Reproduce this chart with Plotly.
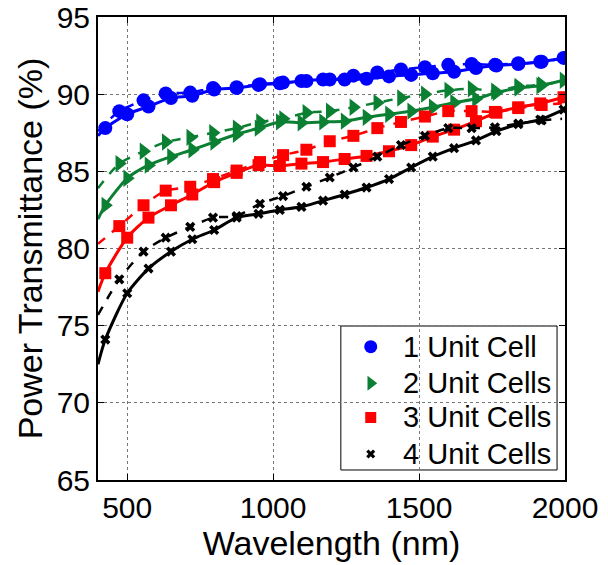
import plotly.graph_objects as go

# Wavelength grids (nm): solid-curve samples and dashed-curve samples
wl_solid = [400, 425, 500, 573, 650, 723, 798, 875, 950, 1023, 1097, 1171, 1245,
            1320, 1397, 1473, 1547, 1620, 1695, 1765, 1840, 1915, 1995]
wl_dash = [400, 473, 556, 632, 716, 794, 875, 955, 1034, 1114, 1194, 1275, 1357,
           1438, 1520, 1600, 1680, 1760, 1840, 1920, 1990]

# Power transmittance (%) along the solid curves
cell1_solid = [87.3, 87.8, 88.7, 89.2, 89.75, 89.9, 90.3, 90.4, 90.6, 90.7, 90.85, 90.95,
               90.95, 91.0, 91.15, 91.25, 91.35, 91.45, 91.7, 91.85, 91.95, 92.1, 92.35]
cell2_solid = [81.9, 82.8, 84.55, 85.4, 85.95, 86.4, 86.9, 87.4, 87.8, 88.2, 88.15, 88.2,
               88.25, 88.5, 88.7, 88.9, 89.15, 89.45, 89.7, 90.1, 90.4, 90.55, 90.9]
cell3_solid = [77.2, 78.4, 80.7, 82.0, 82.8, 83.5, 84.3, 84.9, 85.4, 85.35, 85.5, 85.6,
               85.8, 86.0, 86.3, 86.7, 87.25, 87.7, 88.25, 88.8, 89.15, 89.4, 89.8]
cell4_solid = [72.5, 74.1, 77.1, 78.7, 79.8, 80.6, 81.2, 82.0, 82.25, 82.5, 82.7, 83.1,
               83.5, 83.95, 84.5, 85.25, 85.95, 86.5, 87.0, 87.6, 88.05, 88.35, 89.0]

# Power transmittance (%) along the dashed curves
cell1_dash = [87.6, 88.9, 89.6, 90.05, 90.1, 90.4, 90.45, 90.65, 90.75, 90.85, 90.95,
              91.2, 91.4, 91.6, 91.75, 91.9, 91.95, 91.9, 92.0, 92.1, 92.3]
cell2_dash = [83.9, 85.5, 86.3, 86.9, 87.2, 87.5, 87.8, 88.2, 88.4, 88.8, 88.9,
              89.15, 89.45, 89.75, 90.0, 90.25, 90.35, 90.2, 90.5, 90.6, 90.8]
cell3_dash = [80.3, 81.45, 82.8, 83.75, 84.0, 84.5, 85.05, 85.6, 86.05, 86.4, 86.95,
              87.3, 87.8, 88.2, 88.55, 88.9, 88.9, 88.85, 89.1, 89.3, 89.4]
cell4_dash = [75.7, 78.0, 79.8, 80.7, 81.4, 82.0, 82.1, 82.9, 83.4, 84.0, 84.6,
              85.25, 85.95, 86.7, 87.3, 87.8, 87.8, 87.85, 88.1, 88.3, 88.4]

names = ["1 Unit Cell", "2 Unit Cells", "3 Unit Cells", "4 Unit Cells"]
colors = ["#0000ff", "#0b7f32", "#ff0000", "#000000"]
symbols = ["circle", "triangle-right", "square", "x"]
msizes = [14, 15, 12, 9]
legend_msizes = [13, 13, 11, 8]

solids = [cell1_solid, cell2_solid, cell3_solid, cell4_solid]
dashes = [cell1_dash, cell2_dash, cell3_dash, cell4_dash]

FONT = "Liberation Sans, Arial, sans-serif"

fig = go.Figure()

for i in range(4):
    c = colors[i]
    # curves
    fig.add_trace(go.Scatter(x=wl_solid, y=solids[i], mode="lines",
                             line=dict(color=c, width=3, shape="spline", smoothing=0.7),
                             showlegend=False, hoverinfo="skip"))
    fig.add_trace(go.Scatter(x=wl_dash, y=dashes[i], mode="lines",
                             line=dict(color=c, width=2.5, dash="dash", shape="spline",
                                       smoothing=0.7),
                             showlegend=False, hoverinfo="skip"))
    # markers on the dashed curve (interior samples)
    fig.add_trace(go.Scatter(x=wl_dash[1:-1], y=dashes[i][1:-1], mode="markers",
                             marker=dict(symbol=symbols[i], size=msizes[i], color=c,
                                         line=dict(width=0)),
                             showlegend=False))
    # markers on the solid curve
    fig.add_trace(go.Scatter(x=wl_solid[1:], y=solids[i][1:], mode="markers",
                             name=names[i], showlegend=False,
                             marker=dict(symbol=symbols[i], size=msizes[i], color=c,
                                         line=dict(width=0))))

# Legend box, keyed on a unit overlay axis (0..1 across the plotting area)
box_x0, box_x1, box_y0, box_y1 = 0.520, 0.983, 0.0216, 0.3326
key_x, text_x = 0.584, 0.648
row_y = [0.288, 0.209, 0.135, 0.056]

fig.add_shape(type="rect", xref="paper", yref="paper",
              x0=box_x0, x1=box_x1, y0=box_y0, y1=box_y1,
              fillcolor="white", line=dict(color="black", width=1), layer="between")

for i in range(4):
    fig.add_trace(go.Scatter(x=[key_x], y=[row_y[i]], xaxis="x2", yaxis="y2",
                             mode="markers", showlegend=False, hoverinfo="skip",
                             cliponaxis=False,
                             marker=dict(symbol=symbols[i], size=legend_msizes[i],
                                         color=colors[i], line=dict(width=0))))
    fig.add_annotation(x=text_x, y=row_y[i], xref="paper", yref="paper",
                       text=names[i], showarrow=False, xanchor="left", yanchor="middle",
                       font=dict(family=FONT, size=29, color="black"))

axis_font = dict(family=FONT, size=30, color="black")

fig.update_layout(
    width=608, height=565,
    margin=dict(l=98, r=43, t=17, b=85),
    paper_bgcolor="white", plot_bgcolor="white",
    font=dict(family=FONT, color="black"),
    showlegend=False,
    xaxis=dict(
        range=[400, 2000], tickvals=[500, 1000, 1500, 2000],
        ticks="inside", ticklen=6, tickcolor="black", tickwidth=1,
        showline=True, linecolor="black", linewidth=2, mirror="ticks",
        showgrid=True, gridcolor="#777777", griddash="dot", gridwidth=1,
        zeroline=False, tickfont=axis_font, ticklabeloverflow="allow", automargin=False,
        title=dict(text="Wavelength (nm)", font=dict(size=34, color="black"), standoff=0),
    ),
    yaxis=dict(
        range=[65, 95], tickvals=[65, 70, 75, 80, 85, 90, 95],
        ticks="inside", ticklen=6, tickcolor="black", tickwidth=1,
        showline=True, linecolor="black", linewidth=2, mirror="ticks",
        showgrid=True, gridcolor="#777777", griddash="dot", gridwidth=1,
        zeroline=False, tickfont=axis_font, ticklabeloverflow="allow", automargin=False,
        title=dict(text="Power Transmittance (%)", font=dict(size=34, color="black"),
                   standoff=4),
    ),
    xaxis2=dict(overlaying="x", range=[0, 1], visible=False, anchor="y2"),
    yaxis2=dict(overlaying="y", range=[0, 1], visible=False, anchor="x2"),
)

fig.write_html("out.html")
